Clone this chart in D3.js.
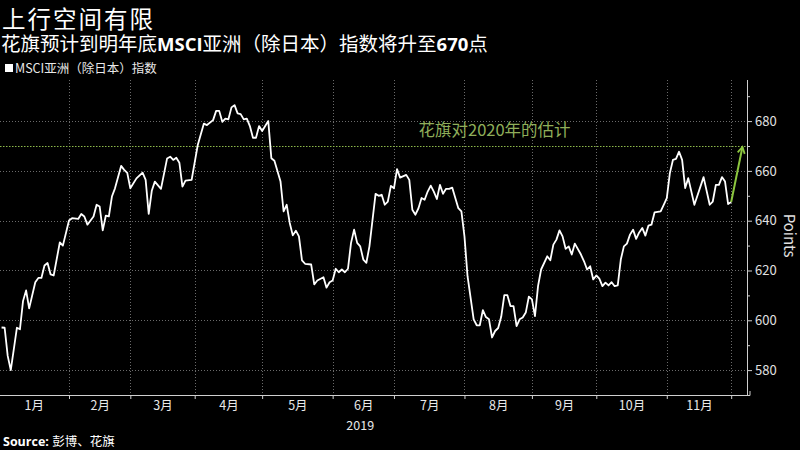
<!DOCTYPE html>
<html><head><meta charset="utf-8">
<script src="https://cdn.jsdelivr.net/npm/d3@7"></script>
<style>
html,body{margin:0;padding:0;background:#000;}
svg{display:block;}
text{font-family:"Noto Sans CJK SC","Noto Sans",sans-serif;}
</style></head>
<body>
<svg id="chart" width="800" height="450"></svg>
<script>
const title = "上行空间有限";
const legendLabel = "MSCI亚洲（除日本）指数";
const annotation = "花旗对2020年的估计";
const yAxisTitle = "Points";
const yearLabel = "2019";
const monthLabels = ["1月","2月","3月","4月","5月","6月","7月","8月","9月","10月","11月"];
const monthStarts = ["2019-01-01","2019-02-01","2019-03-01","2019-04-01","2019-05-01","2019-06-01","2019-07-01","2019-08-01","2019-09-01","2019-10-01","2019-11-01","2019-12-01"];
const yTicks = [580,600,620,640,660,680];
const yMinorTicks = [570,590,610,630,650,670,690];
const targetValue = 670;
const targetDate = "2019-12-06";

const dates = ["2019-01-02","2019-01-03","2019-01-04","2019-01-07","2019-01-08","2019-01-09","2019-01-10","2019-01-11","2019-01-14","2019-01-15","2019-01-17","2019-01-18","2019-01-21","2019-01-22","2019-01-23","2019-01-24","2019-01-25","2019-01-29","2019-01-30",
"2019-02-01","2019-02-04","2019-02-06","2019-02-07","2019-02-08","2019-02-11","2019-02-13","2019-02-14","2019-02-15","2019-02-18","2019-02-19","2019-02-20","2019-02-21","2019-02-22","2019-02-26","2019-02-27","2019-02-28",
"2019-03-01","2019-03-05","2019-03-07","2019-03-08","2019-03-11","2019-03-12","2019-03-13","2019-03-15","2019-03-19","2019-03-20","2019-03-21","2019-03-22","2019-03-25","2019-03-26","2019-03-27","2019-03-29",
"2019-04-02","2019-04-04","2019-04-05","2019-04-09","2019-04-10","2019-04-11","2019-04-12","2019-04-15","2019-04-16","2019-04-17","2019-04-18","2019-04-19","2019-04-22","2019-04-23","2019-04-24","2019-04-25","2019-04-26","2019-04-29","2019-04-30",
"2019-05-01","2019-05-02","2019-05-03","2019-05-06","2019-05-07","2019-05-09","2019-05-10","2019-05-13","2019-05-14","2019-05-15","2019-05-16","2019-05-17","2019-05-20","2019-05-21","2019-05-23","2019-05-24","2019-05-27","2019-05-29","2019-05-30","2019-05-31",
"2019-06-03","2019-06-04","2019-06-05","2019-06-06","2019-06-07","2019-06-10","2019-06-11","2019-06-12","2019-06-13","2019-06-14","2019-06-17","2019-06-18","2019-06-19","2019-06-21","2019-06-24","2019-06-25","2019-06-26","2019-06-27","2019-06-28",
"2019-07-01","2019-07-02","2019-07-03","2019-07-05","2019-07-08","2019-07-09","2019-07-10","2019-07-11","2019-07-12","2019-07-15","2019-07-16","2019-07-17","2019-07-18","2019-07-19","2019-07-22","2019-07-23","2019-07-24","2019-07-25","2019-07-26","2019-07-30","2019-07-31",
"2019-08-01","2019-08-02","2019-08-06","2019-08-07","2019-08-08","2019-08-09","2019-08-12","2019-08-13","2019-08-14","2019-08-15","2019-08-16","2019-08-19","2019-08-20","2019-08-21","2019-08-22","2019-08-23","2019-08-26","2019-08-27","2019-08-28","2019-08-29","2019-08-30",
"2019-09-02","2019-09-03","2019-09-04","2019-09-05","2019-09-09","2019-09-10","2019-09-11","2019-09-12","2019-09-13","2019-09-16","2019-09-17","2019-09-18","2019-09-19","2019-09-20","2019-09-24","2019-09-25","2019-09-26","2019-09-27","2019-09-30",
"2019-10-01","2019-10-02","2019-10-03","2019-10-04","2019-10-07","2019-10-08","2019-10-09","2019-10-10","2019-10-11","2019-10-14","2019-10-15","2019-10-16","2019-10-17","2019-10-18","2019-10-21","2019-10-22","2019-10-23","2019-10-24","2019-10-25","2019-10-28","2019-10-30","2019-10-31",
"2019-11-01","2019-11-04","2019-11-05","2019-11-06","2019-11-07","2019-11-08","2019-11-11","2019-11-12","2019-11-14","2019-11-19","2019-11-21","2019-11-22","2019-11-25","2019-11-26","2019-11-27","2019-11-28","2019-11-29","2019-12-02"];

const values = [597.1,597,585.7,580,588.4,597,596.4,607.7,612,604.8,615.3,617,617,622,623,618.4,618,631.3,630,
640.1,641,640.7,642.7,641.7,638.4,641.7,646.4,645.7,636.1,642,641.7,649.7,653,662,660.4,659.2,
653,657,659.3,656.4,642.7,652,655.7,652.8,665,665.7,664.4,665.3,663.3,653.7,656.1,656.4,
670.4,679,678.4,680.4,684.1,684.1,679.7,681,680.7,685.5,686.4,683.1,682.8,680.7,681,678,673.3,673.3,678,
676,678,680,665.1,664.1,655.7,643.7,646.4,639.1,634.1,636,633.7,624.1,622.7,622.4,614.4,616,617.3,613.1,615.3,
616,620.7,619.3,620.4,619.3,620.7,631.1,636.4,631.1,629.7,624.4,623.1,629.7,650.8,650,650.4,646.4,647.7,654,
653,660.7,657.3,658.4,656.4,644.4,642.4,645,649.1,648.4,651.7,654.1,651.7,648.7,654.4,650.8,652.8,652.8,653.3,645,643.7,
633.7,617.7,600.4,598,598,604.1,601.3,600.4,593.1,595.7,596.9,601.5,610.1,610.1,605.7,605.7,597.7,600.4,601.1,603.1,609.5,
608.4,601.7,613.7,620.4,625.7,624.1,630.4,632.4,636.1,633.7,628.7,629.7,626.4,630.8,626.4,623.7,620.4,621.7,616.4,
618,616.7,613.7,615.1,614,615.3,613.7,614,624.4,629.7,630.8,634.4,636.4,632.7,635.3,637.1,634,638,638.4,643.3,643.7,646.4,
649.1,659.1,664.4,664.8,667.7,664.4,653.1,657.1,646.4,657.5,646.4,647.7,654.4,654.4,657.5,655.7,646.7,647.5];

const parse = d3.timeParse("%Y-%m-%d");
const yearStart = parse("2019-01-01");
// trading-day (weekday) index, as used by the source chart's time axis
function wd(dateStr){
  const d = parse(dateStr);
  return d3.timeDay.range(yearStart, d).filter(t => t.getDay() % 6 !== 0).length;
}

const svg = d3.select("#chart");
const W = 800, H = 450;
svg.append("rect").attr("width", W).attr("height", H).attr("fill", "#000");

const plotTop = 80, plotBottom = 395, axisX = 747;
const x = d3.scaleLinear().domain([0, 244]).range([-1.5, 746.5]);
const y = d3.scaleLinear().domain([570, 696.5]).range([plotBottom, plotTop]);

const data = dates.map((d, i) => ({i: wd(d), v: values[i]}));
const monthIdx = monthStarts.map(wd);

// gridlines
const grid = svg.append("g");
grid.selectAll("line.h").data(yTicks).join("line")
  .attr("x1", 0).attr("x2", axisX)
  .attr("y1", d => Math.round(y(d)) + 0.5).attr("y2", d => Math.round(y(d)) + 0.5)
  .attr("stroke", "#6a6a6a").attr("stroke-width", 1).attr("stroke-dasharray", "1,2");
grid.selectAll("line.v").data(monthIdx).join("line")
  .attr("x1", d => Math.round(x(d)) + 0.5).attr("x2", d => Math.round(x(d)) + 0.5)
  .attr("y1", plotTop).attr("y2", plotBottom)
  .attr("stroke", "#6a6a6a").attr("stroke-width", 1).attr("stroke-dasharray", "1,2");

// target line at 670
svg.append("line")
  .attr("x1", 0).attr("x2", axisX)
  .attr("y1", Math.round(y(targetValue)) + 0.5).attr("y2", Math.round(y(targetValue)) + 0.5)
  .attr("stroke", "#8db84a").attr("stroke-width", 1).attr("stroke-dasharray", "1.5,1.5");

svg.append("text")
  .attr("x", x(137)).attr("y", y(674))
  .attr("fill", "#8fae5a").attr("font-size", 16.5)
  .text(annotation);

// main series
const line = d3.line().x(d => x(d.i)).y(d => y(d.v));
svg.append("path").datum(data)
  .attr("d", line).attr("fill", "none")
  .attr("stroke", "#ffffff").attr("stroke-width", 1.8).attr("stroke-linejoin", "round");

// arrow to target
const defs = svg.append("defs");
defs.append("marker").attr("id", "arr")
  .attr("viewBox", "0 0 10 10").attr("refX", 8).attr("refY", 5)
  .attr("markerWidth", 4.5).attr("markerHeight", 4.5).attr("orient", "auto")
  .append("path").attr("d", "M1,1 L8,5 L1,9").attr("fill", "none")
  .attr("stroke", "#8cc63f").attr("stroke-width", 2);
const last = data[data.length - 1];
svg.append("line")
  .attr("x1", x(last.i)).attr("y1", y(last.v))
  .attr("x2", x(wd(targetDate)) - 1).attr("y2", y(targetValue) + 1)
  .attr("stroke", "#8cc63f").attr("stroke-width", 2)
  .attr("marker-end", "url(#arr)");

// right axis
const yAxis = d3.axisRight(y).tickValues(yTicks).tickSize(5).tickPadding(3);
const gy = svg.append("g").attr("transform", `translate(${axisX},0)`).call(yAxis);
gy.select(".domain").attr("stroke", "#cfcfcf").attr("d", `M0.5,${plotTop}V${plotBottom}`);
gy.selectAll(".tick line").attr("stroke", "#cfcfcf");
gy.selectAll(".tick text").attr("fill", "#e0e0e0").attr("font-size", 13)
  .attr("font-family", "'Open Sans','Noto Sans',sans-serif");
const gyMinor = svg.append("g").attr("transform", `translate(${axisX},0)`)
  .call(d3.axisRight(y).tickValues(yMinorTicks).tickSize(3).tickFormat(""));
gyMinor.select(".domain").remove();
gyMinor.selectAll(".tick line").attr("stroke", "#cfcfcf");

svg.append("text")
  .attr("transform", `translate(784,${y(634)}) rotate(90)`)
  .attr("text-anchor", "middle").attr("fill", "#e0e0e0").attr("font-size", 15)
  .attr("font-family", "'Open Sans','Noto Sans',sans-serif")
  .text(yAxisTitle);

// bottom axis
const xAxis = d3.axisBottom(x).tickValues(monthIdx).tickSize(4).tickFormat("");
const gx = svg.append("g").attr("transform", `translate(0,${plotBottom})`).call(xAxis);
gx.select(".domain").attr("stroke", "#cfcfcf").attr("d", `M0,0.5H${axisX + 3}V-4`);
gx.selectAll(".tick line").attr("stroke", "#cfcfcf");

const mids = monthLabels.map((m, k) => (monthIdx[k] + monthIdx[k + 1]) / 2);
const gxl = svg.append("g").attr("transform", `translate(0,${plotBottom})`)
  .call(d3.axisBottom(x).tickValues(mids).tickSize(0).tickPadding(6).tickFormat((d, k) => monthLabels[k]));
gxl.select(".domain").remove();
gxl.selectAll(".tick text").attr("fill", "#e8e8e8").attr("font-size", 12.5);

svg.append("text").attr("x", x((monthIdx[5] + monthIdx[6]) / 2 - 1)).attr("y", 430)
  .attr("text-anchor", "middle").attr("fill", "#e8e8e8").attr("font-size", 12.5)
  .text(yearLabel);

// titles
svg.append("text").attr("x", 2).attr("y", 27.5).attr("fill", "#ffffff")
  .attr("font-size", 23.5).attr("letter-spacing", 2).text(title);
const sub = svg.append("text").attr("x", 1).attr("y", 50.5).attr("fill", "#ffffff").attr("font-size", 19.5);
sub.append("tspan").text("花旗预计到明年底");
sub.append("tspan").attr("font-weight", "bold").attr("font-size", 18.5).attr("font-family", "'Open Sans','Noto Sans',sans-serif").text("MSCI");
sub.append("tspan").text("亚洲（除日本）指数将升至");
sub.append("tspan").attr("font-weight", "bold").attr("font-size", 18.5).attr("font-family", "'Open Sans','Noto Sans',sans-serif").text("670");
sub.append("tspan").text("点");

// legend
svg.append("rect").attr("x", 5).attr("y", 64).attr("width", 8).attr("height", 8).attr("fill", "#ffffff");
svg.append("text").attr("x", 15).attr("y", 73).attr("fill", "#e8e8e8").attr("font-size", 12.5)
  .text(legendLabel);

// source
const src = svg.append("text").attr("x", 3).attr("y", 446).attr("fill", "#ffffff").attr("font-size", 12.5);
src.append("tspan").attr("font-weight", "bold").attr("font-family", "'Open Sans','Noto Sans',sans-serif").text("Source: ");
src.append("tspan").text("彭博、花旗");
</script>
</body></html>
